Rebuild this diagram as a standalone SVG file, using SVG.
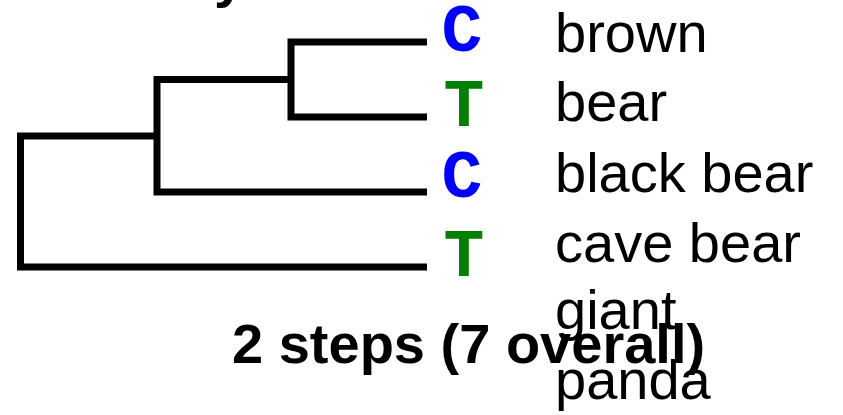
<svg xmlns="http://www.w3.org/2000/svg" width="843" height="415" viewBox="0 0 843 415">
<style>
.br{fill:none;stroke:#000;stroke-width:7;stroke-linejoin:miter;stroke-linecap:butt}
.st{font-family:"Liberation Mono","DejaVu Sans Mono",monospace;font-weight:bold;font-size:68px;text-anchor:middle}
.c{fill:#0000ff}
.t{fill:#008000}
.lb{font-family:"Liberation Sans",Arial,sans-serif;font-size:56px;fill:#000}
.ti{font-family:"Liberation Sans",Arial,sans-serif;font-size:56px;font-weight:bold;fill:#000}
</style>
<rect width="843" height="415" fill="#fff"/>
<text class="ti" x="214" y="-4">y</text>
<g id="connectors">
<path class="br" d="M427,42 H291 V117 H427"/>
<path class="br" d="M291,79.5 H157 V192 H427"/>
<path class="br" d="M157,136 H20.5 V267 H427"/>
</g>
<g id="leaf-brown-bear">
<text class="st c" x="462" y="51">C</text>
<text class="lb" x="555" y="52">brown</text>
<text class="lb" x="555" y="121">bear</text>
</g>
<g id="leaf-black-bear">
<text class="st c" x="462" y="197">C</text>
<text class="lb" x="555" y="192">black bear</text>
</g>
<g id="leaf-t1">
<text class="st t" x="464" y="126">T</text>
</g>
<g id="leaf-cave-bear">
<text class="st t" x="464" y="276">T</text>
<text class="lb" x="555" y="262">cave bear</text>
</g>
<g id="leaf-giant-panda">
<text class="lb" x="555" y="329">giant</text>
<text class="lb" x="555" y="399">panda</text>
</g>
<g id="title">
<text class="ti" x="232" y="363">2 steps (7 overall)</text>
</g>
</svg>
